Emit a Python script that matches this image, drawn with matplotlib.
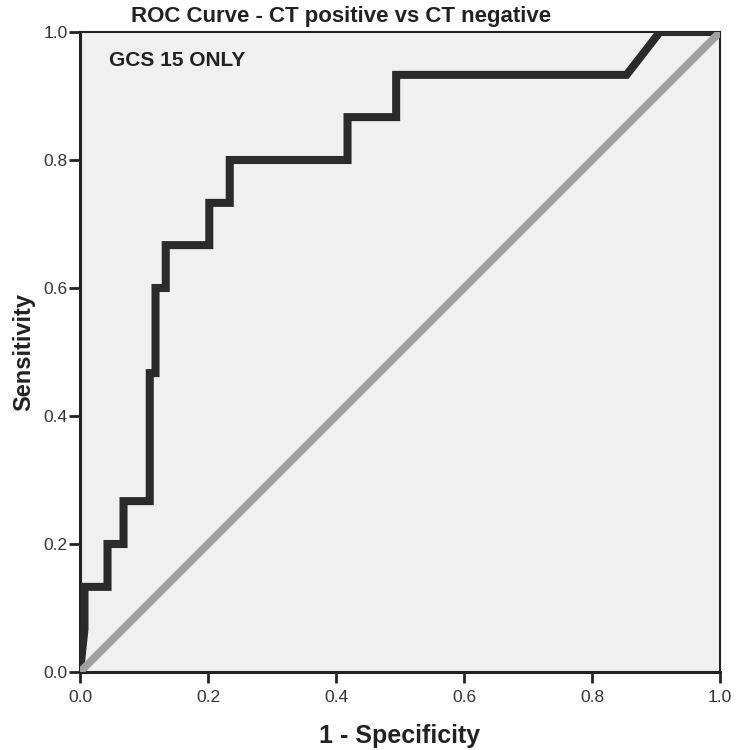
import matplotlib
matplotlib.use("Agg")
import matplotlib.pyplot as plt

# ROC curve points (1 - specificity, sensitivity)
fpr = [0.0, 0.007, 0.007, 0.043, 0.043, 0.068, 0.068, 0.109, 0.109, 0.118, 0.118,
       0.134, 0.134, 0.202, 0.202, 0.234, 0.234, 0.418, 0.418, 0.494, 0.494,
       0.854, 0.906, 1.0]
tpr = [0.0, 0.067, 0.133, 0.133, 0.200, 0.200, 0.267, 0.267, 0.467, 0.467, 0.600,
       0.600, 0.667, 0.667, 0.733, 0.733, 0.800, 0.800, 0.867, 0.867, 0.933,
       0.933, 1.0, 1.0]
ref_x = [0.0, 1.0]
ref_y = [0.0, 1.0]
ticks = [0.0, 0.2, 0.4, 0.6, 0.8, 1.0]
tick_labels = ["0.0", "0.2", "0.4", "0.6", "0.8", "1.0"]

plt.rcParams['font.family'] = ['Liberation Sans', 'DejaVu Sans']

fig = plt.figure(figsize=(7.37, 7.5), dpi=100)
fig.patch.set_facecolor('white')
ax = fig.add_axes([80/737, 1 - 672/750, 640/737, 640/750])
ax.set_facecolor('#f0f0f0')

ax.plot(fpr, tpr, color='#2b2b2b', linewidth=5.8, solid_joinstyle='miter',
        solid_capstyle='butt', zorder=3)
ax.plot(ref_x, ref_y, color='#a0a0a0', linewidth=5.5, solid_capstyle='butt', zorder=4)

ax.set_xlim(0, 1)
ax.set_ylim(0, 1)
ax.set_xticks(ticks)
ax.set_xticklabels(tick_labels)
ax.set_yticks(ticks)
ax.set_yticklabels(tick_labels)
ax.tick_params(axis='both', direction='out', length=8, width=2, color='#222222',
               labelsize=12.5, labelcolor='#333333')
ax.tick_params(axis='y', pad=1)
ax.tick_params(axis='x', pad=5)

for side in ['left', 'bottom']:
    ax.spines[side].set_linewidth(2.2)
    ax.spines[side].set_color('#222222')
for side in ['top', 'right']:
    ax.spines[side].set_linewidth(1.5)
    ax.spines[side].set_color('#222222')

ax.set_xlabel('1 - Specificity', fontsize=18, fontweight='bold', color='#222222', labelpad=14)
ax.set_ylabel('Sensitivity', fontsize=17, fontweight='bold', color='#222222', labelpad=6)

fig.text(341/737, 1 - 22/750, 'ROC Curve - CT positive vs CT negative', ha='center',
         va='baseline', fontsize=16, fontweight='bold', color='#222222')
ax.text(0.045, 0.955, 'GCS 15 ONLY', transform=ax.transAxes, ha='left', va='center',
        fontsize=15, fontweight='bold', color='#222222')

fig.savefig('out.png', dpi=100, facecolor='white')
